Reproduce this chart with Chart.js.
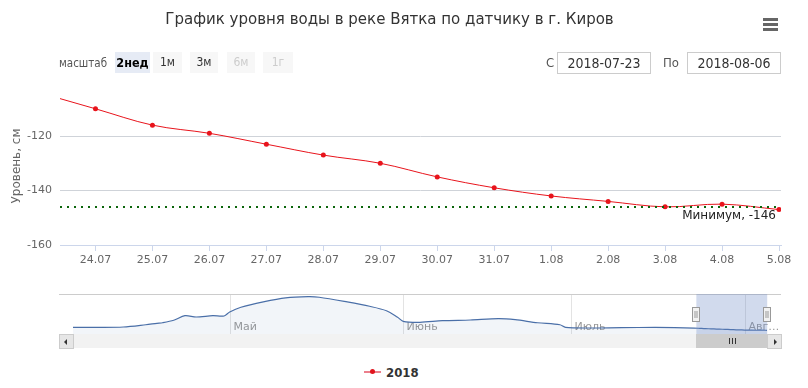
<!DOCTYPE html>
<html>
<head>
<meta charset="utf-8">
<script src="https://cdn.jsdelivr.net/npm/chart.js@4.4.1/dist/chart.umd.min.js"></script>
<style>
  html, body { margin: 0; padding: 0; background: #fff; }
  body { width: 808px; height: 388px; position: relative; overflow: hidden;
         font-family: 'Liberation Sans Narrow', 'DejaVu Sans Condensed', sans-serif; color: #333; }
  .abs { position: absolute; }
  #title { left: 0; top: 8px; width: 779px; text-align: center; font-size: 16.7px; color: #333; white-space: nowrap; }
  .bar { left: 763px; width: 15px; height: 3px; background: #666; }
  .lbl { top: 55px; font-size: 13px; color: #555; }
  .btn { top: 52px; height: 21px; line-height: 21px; text-align: center; font-size: 12px; background: #f7f7f7; color: #333; }
  .btn.sel { background: #e6ebf5; font-weight: bold; color: #000; font-size: 12.5px; }
  .btn.off { color: #ccc; }
  .box { top: 52px; height: 20px; line-height: 20px; width: 92px; border: 1px solid #ccc; text-align: center; font-size: 14px; color: #333; }
  #scroll { left: 59px; top: 334px; width: 722px; height: 14px; background: #f2f2f2; }
  .sbtn { top: 334px; width: 13px; height: 13px; background: #e6e6e6; border: 1px solid #ccc; }
  .tri { width: 0; height: 0; border-top: 3px solid transparent; border-bottom: 3px solid transparent; }
  #thumb { top: 334px; height: 14px; background: #ccc; }
  .grip { width: 1px; height: 6px; background: #333; top: 338px; }
  #legend-text { left: 386px; top: 365px; font-size: 13px; font-weight: bold; color: #333; }
</style>
</head>
<body>
<canvas id="main" class="abs" width="808" height="280" style="left:0;top:0"></canvas>
<canvas id="nav" class="abs" width="722" height="40" style="left:59px;top:294px"></canvas>

<div id="title" class="abs">График уровня воды в реке Вятка по датчику в г. Киров</div>
<div class="abs bar" style="top:18px"></div>
<div class="abs bar" style="top:23px"></div>
<div class="abs bar" style="top:28px"></div>

<div class="abs lbl" style="left:59px;font-size:11.5px;top:56px">масштаб</div>
<div class="abs btn sel" style="left:115px;width:35px">2нед</div>
<div class="abs btn" style="left:153px;width:29px">1м</div>
<div class="abs btn" style="left:190px;width:28px">3м</div>
<div class="abs btn off" style="left:227px;width:28px">6м</div>
<div class="abs btn off" style="left:263px;width:30px">1г</div>

<div class="abs lbl" style="left:546px">С</div>
<div id="from-box" class="abs box" style="left:557px"></div>
<div class="abs lbl" style="left:663px">По</div>
<div id="to-box" class="abs box" style="left:687px"></div>

<div id="scroll" class="abs"></div>
<div class="abs sbtn" style="left:59px"><div class="tri" style="margin:4px 0 0 4px;border-right:3px solid #333"></div></div>
<div class="abs sbtn" style="left:767px"><div class="tri" style="margin:4px 0 0 6px;border-left:3px solid #333"></div></div>
<div id="thumb" class="abs"></div>

<div class="abs" style="left:364px;top:371px;width:17px;height:2px;background:#ec7f8c"></div>
<div class="abs" style="left:370px;top:369px;width:5px;height:5px;border-radius:50%;background:#e0141c"></div>
<div id="legend-text" class="abs">2018</div>

<script>
// ===== DATA ===== //
// main series: days counted from 23.07.2018
const dayLabels = ['23.07', '24.07', '25.07', '26.07', '27.07', '28.07', '29.07',
                   '30.07', '31.07', '1.08', '2.08', '3.08', '4.08', '5.08'];
const levels = [-104, -110, -116, -119, -123, -127, -130, -135, -139, -142, -144, -146, -145, -147];
const minLevel = -146;
const yTicks = [-160, -140, -120];
const rangeFrom = '2018-07-23';
const rangeTo = '2018-08-06';

// navigator: days counted from 3.04.2018, levels before 23.07
const navDays = [0, 4, 9, 13, 15, 16, 18, 20, 22, 25, 27, 28, 30, 34, 38, 42, 44, 49, 53, 56,
                 58, 59, 62, 66, 71, 76, 79, 83, 87, 88, 92, 98, 104];
const navLevels = [-90, -90, -84, -41, -14, -3, 43, 130, 106, 130, 125, 201, 290, 391, 467, 491, 480, 391, 309, 225,
                   100, 24, 5, 35, 49, 73, 54, -3, -41, -90, -103, -96, -93];
const navMainOffset = 111;            // 23.07 in navigator days
const monthNames = ['Май', 'Июнь', 'Июль', 'Авг…'];
const monthDays = [28, 59, 89, 120];

// visible window of the main chart (in main days)
const viewStart = 0.377;
const viewEnd = 13.035;

// ===== COLORS / FONTS ===== //
const SERIES_RED = '#e8141c';
const GRID = '#cfd3d9';
const AXIS = '#ccd6eb';
const TICK_FONT = { family: 'DejaVu Sans', size: 11 };

// ===== DOM ===== //
const mainCtx = document.getElementById('main');
const navCtx = document.getElementById('nav');
document.getElementById('from-box').textContent = rangeFrom;
document.getElementById('to-box').textContent = rangeTo;

// ===== PLUGINS ===== //
const minLinePlugin = {
  id: 'minLine',
  afterDatasetsDraw(chart) {
    const { ctx, chartArea: a, scales: { y } } = chart;
    const py = Math.round(y.getPixelForValue(minLevel));
    ctx.save();
    ctx.strokeStyle = '#0b650b';
    ctx.lineWidth = 2;
    ctx.setLineDash([2, 5]);
    ctx.beginPath();
    ctx.moveTo(a.left, py);
    ctx.lineTo(a.right, py);
    ctx.stroke();
    ctx.setLineDash([]);
    ctx.fillStyle = '#222';
    ctx.font = '12px "DejaVu Sans"';
    ctx.textAlign = 'right';
    ctx.textBaseline = 'top';
    ctx.fillText('Минимум, ' + minLevel, a.right - 5, py + 3);
    ctx.restore();
  }
};

const navPlugin = {
  id: 'navExtras',
  beforeDatasetsDraw(chart) {
    const { ctx, chartArea: a, scales: { x } } = chart;
    ctx.save();
    ctx.font = '11px "DejaVu Sans"';
    ctx.textBaseline = 'alphabetic';
    monthDays.forEach((d, i) => {
      const px = Math.round(x.getPixelForValue(d)) + 0.5;
      ctx.strokeStyle = '#e3e3e3';
      ctx.lineWidth = 1;
      ctx.beginPath();
      ctx.moveTo(px, a.top);
      ctx.lineTo(px, a.bottom);
      ctx.stroke();
      ctx.fillStyle = '#999';
      ctx.fillText(monthNames[i], px + 3, a.bottom - 4);
    });
    ctx.restore();
  },
  afterDatasetsDraw(chart) {
    const { ctx, chartArea: a, scales: { x }, width } = chart;
    const x0 = x.getPixelForValue(navMainOffset + viewStart);
    const x1 = x.getPixelForValue(navMainOffset + viewEnd);
    ctx.save();
    ctx.strokeStyle = '#cccccc';
    ctx.lineWidth = 1;
    ctx.beginPath();
    ctx.moveTo(0, 0.5);
    ctx.lineTo(width, 0.5);
    ctx.stroke();
    ctx.fillStyle = 'rgba(102,133,194,0.3)';
    ctx.fillRect(x0, 0, x1 - x0, a.bottom);
    [x0, x1].forEach(px => {
      const hx = Math.round(px) - 3.5;
      ctx.fillStyle = '#f2f2f2';
      ctx.strokeStyle = '#999';
      ctx.fillRect(hx, 13.5, 7, 14);
      ctx.strokeRect(hx, 13.5, 7, 14);
      ctx.beginPath();
      ctx.moveTo(hx + 2.5, 17); ctx.lineTo(hx + 2.5, 24);
      ctx.moveTo(hx + 4.5, 17); ctx.lineTo(hx + 4.5, 24);
      ctx.stroke();
    });
    ctx.restore();
  }
};

// ===== MAIN CHART ===== //
const mainChart = new Chart(mainCtx, {
  type: 'line',
  data: {
    datasets: [{
      label: '2018',
      data: levels.map((v, i) => ({ x: i, y: v })),
      borderColor: SERIES_RED,
      backgroundColor: SERIES_RED,
      borderWidth: 1,
      pointRadius: 2.5,
      pointBorderWidth: 0,
      tension: 0.35
    }]
  },
  options: {
    responsive: false,
    animation: false,
    events: [],
    layout: { padding: { top: 87, right: 27, left: 0, bottom: 0 } },
    plugins: { legend: { display: false }, tooltip: { enabled: false } },
    scales: {
      x: {
        type: 'linear',
        min: viewStart,
        max: viewEnd,
        afterBuildTicks: s => { s.ticks = dayLabels.slice(1).map((_, i) => ({ value: i + 1 })); },
        afterFit: s => { s.height = 35; },
        ticks: { color: '#666', font: TICK_FONT, padding: 3, maxRotation: 0, autoSkip: false,
                 callback: v => dayLabels[v] },
        grid: { drawOnChartArea: false, color: AXIS, tickLength: 6 },
        border: { color: AXIS }
      },
      y: {
        min: -160,
        max: -102,
        afterBuildTicks: s => { s.ticks = yTicks.map(v => ({ value: v })); },
        afterFit: s => { s.width = 60; },
        ticks: { color: '#666', font: TICK_FONT, padding: 8 },
        grid: { color: GRID, drawTicks: false },
        border: { display: false },
        title: { display: true, text: 'Уровень, см', color: '#666',
                 font: { family: 'DejaVu Sans', size: 12 }, padding: { top: 10, bottom: 0 } }
      }
    }
  },
  plugins: [minLinePlugin]
});

// ===== NAVIGATOR ===== //
const navPoints = navDays.map((d, i) => ({ x: d, y: navLevels[i] }))
  .concat(levels.map((v, i) => ({ x: navMainOffset + i, y: v })));

const navChart = new Chart(navCtx, {
  type: 'line',
  data: {
    datasets: [{
      data: navPoints,
      borderColor: '#4a6fa8',
      backgroundColor: 'rgba(69,114,167,0.07)',
      borderWidth: 1.2,
      fill: 'start',
      pointRadius: 0,
      tension: 0.3
    }]
  },
  options: {
    responsive: false,
    animation: false,
    events: [],
    layout: { padding: { left: 14, right: 14, top: 0, bottom: 0 } },
    plugins: { legend: { display: false }, tooltip: { enabled: false } },
    scales: {
      x: { type: 'linear', display: false, min: 0, max: navMainOffset + levels.length - 1 },
      y: { display: false, min: -217, max: 542 }
    }
  },
  plugins: [navPlugin]
});

// scrollbar thumb follows the navigator window
function placeThumb() {
  const left = 59 + navChart.scales.x.getPixelForValue(navMainOffset + viewStart);
  const right = 59 + navChart.scales.x.getPixelForValue(navMainOffset + viewEnd);
  const thumb = document.getElementById('thumb');
  thumb.style.left = left + 'px';
  thumb.style.width = (right - left) + 'px';
  const mid = Math.round((left + right) / 2);
  [-3, 0, 3].forEach(dx => {
    const g = document.createElement('div');
    g.className = 'abs grip';
    g.style.left = (mid + dx) + 'px';
    document.body.appendChild(g);
  });
}
placeThumb();
</script>
</body>
</html>
